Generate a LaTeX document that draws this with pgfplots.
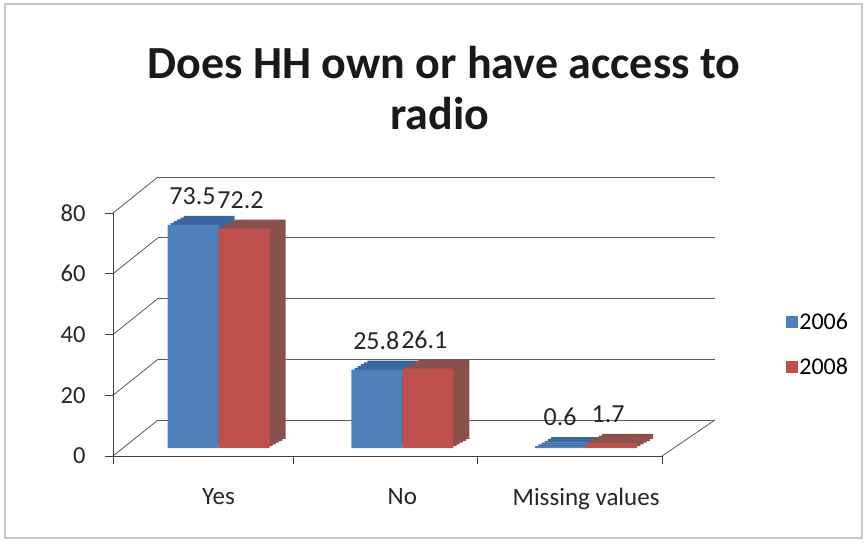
\documentclass[border=0pt]{standalone}
\usepackage{fontspec}
\setmainfont{Carlito}
\usepackage{pgfplots}
\usepackage{pgfplotstable}
\pgfplotsset{compat=1.18}
\definecolor{b1}{HTML}{4F81BD}
\definecolor{b2}{HTML}{3A679E}
\definecolor{r1}{HTML}{C0504D}
\definecolor{r2}{HTML}{8A514C}
\definecolor{gridc}{HTML}{5A5A5A}

\pgfplotstableread{
x y
0 73.5
1 25.8
2 0.6
}\tblA
\pgfplotstableread{
x y
0 72.2
1 26.1
2 1.7
}\tblB

\begin{document}
\begin{tikzpicture}
\useasboundingbox (0,0) rectangle (867pt,542pt);
\draw[color=black!22, line width=1.5pt] (5pt,4pt) rectangle (862pt,538pt);
\node[font=\bfseries\fontsize{46}{50}\selectfont, text=black!90, anchor=base, inner sep=0pt] at (444pt,463pt) {Does HH own or have access to};
\node[font=\bfseries\fontsize{46}{50}\selectfont, text=black!90, anchor=base, inner sep=0pt] at (440pt,413pt) {radio};

% back wall
\begin{axis}[at={(158pt,122pt)}, anchor=south west, scale only axis,
  width=557pt, height=243pt, xmin=0, xmax=1, ymin=0, ymax=80,
  ytick={0,20,...,80}, xtick=\empty, yticklabels={},
  ymajorgrids, grid style={gridc, line width=0.8pt},
  axis line style={draw=none}, major tick length=0pt]
\end{axis}
\foreach \v in {0,20,...,80}
  \draw[gridc, line width=0.8pt] ({113pt},{(86+3.0375*\v)*1pt}) -- ({158pt},{(122+3.0375*\v)*1pt});
\draw[gridc, line width=0.8pt] (662pt,86pt) -- (715pt,122pt);

% front axis
\begin{axis}[at={(113pt,86pt)}, anchor=south west, scale only axis,
  width=549pt, height=243pt, xmin=-0.574, xmax=2.413, ymin=0, ymax=80,
  ytick={0,20,...,80}, xtick={0,1,2}, xticklabels={Yes,No,Missing values},
  minor xtick={-0.574,0.41,1.41,2.413},
  axis x line*=bottom, axis y line*=left,
  axis line style={black!75, line width=0.8pt, -},
  tick style={black!75, line width=0.8pt},
  major x tick style={draw=none},
  tick align=outside, major tick length=8pt, minor tick length=8pt,
  /pgf/number format/assume math mode=true,
  ticklabel style={text=black!85},
  yticklabel style={font=\fontsize{24.5}{28}\selectfont, xshift=-16pt},
  xticklabel style={font=\fontsize{25}{28}\selectfont, yshift=-21pt}]
\end{axis}

% bars
\begin{axis}[at={(113pt,94pt)}, anchor=south west, scale only axis,
  width=549pt, height=243pt, xmin=-0.574, xmax=2.413, ymin=0, ymax=80,
  hide axis, clip=false,
  /pgf/number format/assume math mode=true,
  nodes near coords style={font=\fontsize{26}{30}\selectfont, text=black!85, anchor=south, inner sep=0pt, yshift=20pt},
  legend style={draw=none, fill=none, at={(1.22,0.426)}, anchor=west,
    font=\fontsize{24}{28}\selectfont, row sep=23pt},
  legend cell align=left]
\pgfplotsinvokeforeach{0.2,0.4,0.6,0.8,1}{
  \addplot[ybar, bar width=51pt, bar shift=-25.5pt, fill=b2, draw=none, xshift=#1*16pt, yshift=#1*9pt, forget plot] table {\tblA};
}
\addplot[ybar, bar width=51pt, bar shift=-25.5pt, fill=b1, draw=none, nodes near coords,
  every node near coord/.append style={xshift=-26pt}, forget plot] table {\tblA};
\pgfplotsinvokeforeach{0.2,0.4,0.6,0.8,1}{
  \addplot[ybar, bar width=51pt, bar shift=25.5pt, fill=r2, draw=none, xshift=#1*16pt, yshift=#1*9pt, forget plot] table {\tblB};
}
\addplot[ybar, bar width=51pt, bar shift=25.5pt, fill=r1, draw=none, nodes near coords,
  every node near coord/.append style={xshift=22pt}, forget plot] table {\tblB};
\addlegendimage{legend image code/.code={\fill[b1] (0pt,-5pt) rectangle (11pt,6pt);}}
\addlegendimage{legend image code/.code={\fill[r1] (0pt,-5pt) rectangle (11pt,6pt);}}
\legend{2006,2008}
\end{axis}
\end{tikzpicture}
\end{document}
